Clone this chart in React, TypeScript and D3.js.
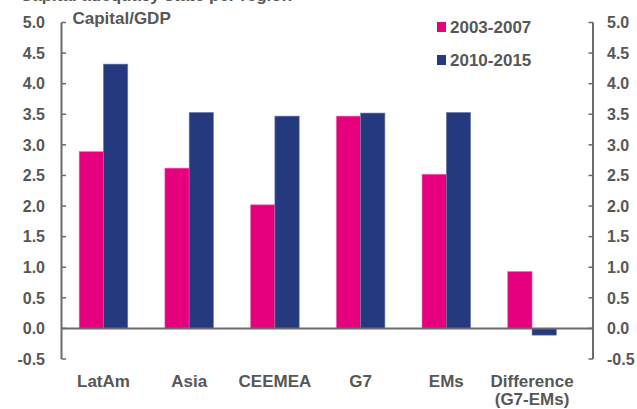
import React from "react";
import * as d3 from "d3";

const categories = ["LatAm", "Asia", "CEEMEA", "G7", "EMs", "Difference\n(G7-EMs)"];
const series1Name = "2003-2007";
const series2Name = "2010-2015";
const series1 = [2.89, 2.62, 2.02, 3.47, 2.52, 0.93];
const series2 = [4.32, 3.53, 3.47, 3.52, 3.53, -0.11];
const yTicks = [-0.5, 0.0, 0.5, 1.0, 1.5, 2.0, 2.5, 3.0, 3.5, 4.0, 4.5, 5.0];

const W = 637;
const H = 409;
const PINK = "#E6007E";
const NAVY = "#253A7E";
const TEXT = "#575757";
const AXIS = "#6b6b6b";
const FONT = "'Liberation Sans', Arial, sans-serif";

export default function App() {
  const y = d3.scaleLinear().domain([-0.5, 5]).range([359, 22.5]);
  const x = d3
    .scaleBand<string>()
    .domain(categories)
    .range([60.6, 574.9])
    .paddingInner(0.433)
    .paddingOuter(0.2165);
  const bw = x.bandwidth() / 2;
  const leftX = 61.5;
  const rightX = 593;
  const y0 = y(0);

  return (
    <svg
      width={W}
      height={H}
      style={{ position: "absolute", left: 0, top: 0, background: "#fff" }}
      fontFamily={FONT}
    >
      <text x={20} y={1} fontSize={17} fontWeight="bold" fill={TEXT}>
        Capital adequacy state per region
      </text>

      {/* bars */}
      {categories.map((c, i) => {
        const v1 = series1[i];
        const v2 = series2[i];
        const bx = x(c) as number;
        return (
          <g key={c}>
            <rect
              x={bx}
              y={Math.min(y(v1), y0)}
              width={bw}
              height={Math.abs(y(v1) - y0)}
              fill={PINK}
              stroke="#ef6fb2"
              strokeWidth={0.6}
            />
            <rect
              x={bx + bw}
              y={Math.min(y(v2), y0)}
              width={bw}
              height={Math.abs(y(v2) - y0)}
              fill={NAVY}
              stroke="#6f7cad"
              strokeWidth={0.6}
            />
          </g>
        );
      })}

      {/* zero line */}
      <line x1={leftX} x2={rightX} y1={y0} y2={y0} stroke={AXIS} strokeWidth={2} />

      {/* left axis */}
      <line x1={leftX} x2={leftX} y1={y(5)} y2={y(-0.5)} stroke={AXIS} strokeWidth={2} />
      {yTicks.map((t) => (
        <g key={"l" + t}>
          <line x1={leftX} x2={leftX + 4.5} y1={y(t)} y2={y(t)} stroke={AXIS} strokeWidth={1.5} />
          <text
            x={45}
            y={y(t)}
            dy="0.36em"
            textAnchor="end"
            fontSize={16}
            fontWeight="bold"
            fill={TEXT}
          >
            {t.toFixed(1)}
          </text>
        </g>
      ))}

      {/* right axis */}
      <line x1={rightX} x2={rightX} y1={y(5)} y2={y(-0.5)} stroke={AXIS} strokeWidth={2} />
      {yTicks.map((t) => (
        <g key={"r" + t}>
          <line x1={rightX - 4.5} x2={rightX} y1={y(t)} y2={y(t)} stroke={AXIS} strokeWidth={1.5} />
          <text
            x={607}
            y={y(t)}
            dy="0.36em"
            textAnchor="start"
            fontSize={16}
            fontWeight="bold"
            fill={TEXT}
          >
            {t.toFixed(1)}
          </text>
        </g>
      ))}

      {/* axis title */}
      <text x={72.5} y={24} fontSize={17} fontWeight="bold" fill={TEXT}>
        Capital/GDP
      </text>

      {/* legend */}
      <rect x={437} y={22} width={9} height={10} fill={PINK} />
      <text x={450} y={32.5} fontSize={17} fontWeight="bold" fill={TEXT}>
        {series1Name}
      </text>
      <rect x={437} y={55} width={9} height={10} fill={NAVY} />
      <text x={450} y={65.5} fontSize={17} fontWeight="bold" fill={TEXT}>
        {series2Name}
      </text>

      {/* category labels */}
      {categories.map((c) => {
        const cx = (x(c) as number) + x.bandwidth() / 2;
        const lines = c.split("\n");
        return (
          <text key={"c" + c} x={cx} y={387} textAnchor="middle" fontSize={17} fontWeight="bold" fill={TEXT}>
            {lines.map((ln, j) => (
              <tspan key={j} x={cx} dy={j === 0 ? 0 : 18}>
                {ln}
              </tspan>
            ))}
          </text>
        );
      })}
    </svg>
  );
}
